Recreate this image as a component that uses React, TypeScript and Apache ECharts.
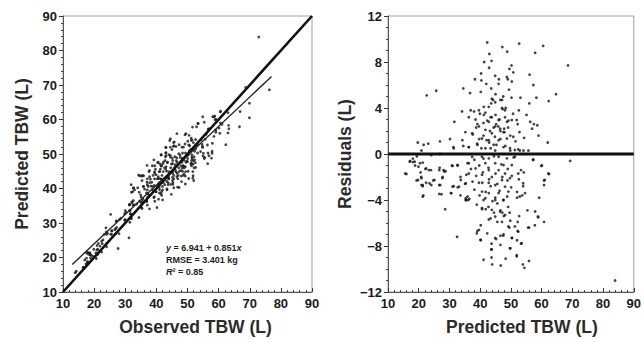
import React, { useEffect, useRef } from "react";
import * as echarts from "echarts";

// Residual plot readings: [predicted TBW (L), residual (L)]
const residualPoints: number[][] = [
  [42.3,9.7],[47.2,9.3],[52.7,9.6],[60.5,9.4],[48.8,8.9],[43.0,8.7],[57.9,8.8],[41.3,8.0],[43.7,8.1],[68.6,7.7],[50.2,7.7],[42.9,7.5],[49.5,7.4],[50.8,7.1],[40.3,7.0],[56.1,6.9],[44.9,6.8],[48.7,6.7],[38.3,6.5],[46.1,6.5],[40.4,6.4],[50.3,6.3],[49.0,6.5],[57.3,6.0],[46.0,6.1],[42.0,6.1],[43.6,5.7],[34.5,5.7],[49.4,5.6],[25.7,5.5],[22.6,5.1],[40.2,5.4],[36.7,5.3],[64.7,5.2],[45.0,5.2],[47.5,5.0],[50.2,4.9],[53.1,4.9],[58.3,4.9],[44.2,4.7],[46.6,4.7],[62.3,4.6],[43.6,4.4],[56.0,4.4],[41.2,4.1],[38.0,3.7],[41.7,3.6],[47.3,3.9],[48.3,4.0],[52.6,3.8],[34.1,3.7],[39.9,3.5],[45.0,3.4],[50.7,3.5],[55.1,3.4],[36.3,3.2],[43.4,3.2],[46.3,3.0],[42.3,2.9],[49.2,2.9],[58.6,2.5],[57.5,2.6],[56.3,2.8],[39.1,2.6],[41.1,2.7],[45.2,2.6],[45.9,2.4],[44.4,2.3],[47.8,2.2],[49.1,2.3],[52.2,2.6],[38.7,2.3],[43.2,2.0],[46.6,2.0],[47.9,1.9],[52.8,1.9],[35.2,1.9],[56.9,2.2],[59.0,1.6],[31.6,2.8],[37.6,1.7],[41.1,1.6],[44.8,1.5],[49.8,1.6],[54.3,1.4],[39.7,1.3],[42.1,1.2],[46.6,1.3],[30.2,1.3],[26.9,1.1],[42.9,1.0],[51.5,1.1],[62.0,1.0],[19.7,1.0],[23.1,0.9],[21.6,0.8],[39.1,0.8],[45.3,0.8],[48.2,0.7],[34.5,0.7],[31.3,0.6],[36.3,0.6],[40.4,0.5],[43.4,0.5],[31.4,0.5],[49.8,0.3],[52.4,0.4],[54.1,0.3],[55.7,0.3],[20.9,0.3],
  [19.4,-0.2],[26.9,0.0],[24.1,-0.1],[57.3,-0.5],[69.3,-0.6],[17.2,-0.6],[18.1,-0.7],[20.4,-0.8],[18.1,-0.4],[38.1,-0.5],[41.1,-0.4],[44.5,-0.2],[50.9,-0.3],[35.9,-0.8],[39.7,-1.0],[46.9,-0.9],[30.8,-1.0],[32.7,-1.0],[60.1,-1.0],[19.9,-1.1],[18.8,-1.0],[26.8,-1.2],[22.2,-1.3],[23.3,-1.4],[37.0,-1.3],[42.7,-1.2],[49.0,-1.3],[53.3,-1.4],[28.1,-1.4],[28.7,-1.5],[15.6,-1.7],[20.6,-1.6],[40.9,-1.6],[45.0,-1.7],[62.2,-1.7],[35.5,-1.8],[38.7,-1.9],[47.2,-2.0],[50.3,-1.9],[54.2,-1.6],[20.9,-2.1],[27.7,-2.1],[33.6,-2.0],[42.9,-2.2],[48.9,-2.3],[52.6,-2.2],[19.3,-2.3],[60.8,-2.3],[24.7,-2.3],[22.4,-2.5],[37.5,-2.4],[40.7,-2.5],[45.6,-2.6],[20.9,-2.7],[24.1,-2.7],[27.0,-2.7],[31.4,-2.8],[32.7,-2.9],[35.1,-2.6],[43.4,-2.8],[50.1,-2.9],[54.0,-2.8],[60.8,-2.7],[21.3,-2.8],[38.1,-3.1],[41.8,-3.3],[46.3,-3.2],[52.0,-3.3],[30.6,-3.4],[27.4,-3.5],[21.5,-3.6],[33.6,-3.6],[39.8,-3.6],[44.9,-3.8],[48.8,-3.7],[53.7,-3.6],[35.9,-3.7],[35.4,-4.0],[36.5,-3.9],[41.1,-4.0],[44.0,-4.1],[47.5,-4.0],[52.0,-3.8],[59.2,-3.8],[38.9,-4.4],[42.7,-4.6],[45.6,-4.3],[49.1,-4.6],[40.6,-4.8],[41.8,-4.8],[46.6,-4.9],[28.6,-4.8],[44.5,-5.1],[47.2,-5.1],[49.6,-5.1],[55.4,-4.9],[57.9,-5.0],[43.4,-5.6],[47.7,-5.4],[52.7,-5.4],[58.9,-5.5],[60.8,-5.9],[45.6,-5.9],[49.8,-5.8],[55.6,-6.4],[49.5,-6.4],[51.3,-6.3],[57.8,-6.2],[40.2,-6.2],[39.1,-6.7],[38.9,-6.9],[42.3,-6.9],[52.2,-6.7],[46.6,-7.1],[47.5,-7.1],[40.2,-7.5],[50.4,-7.3],[32.5,-7.2],[45.2,-7.4],[52.0,-7.5],[43.7,-7.8],[53.3,-7.8],[46.6,-7.9],[49.8,-8.2],[43.6,-8.3],[51.9,-8.8],[41.1,-9.2],[43.7,-9.0],[48.3,-9.1],[55.9,-9.3],[43.9,-9.6],[46.7,-9.7],[53.9,-9.6],[54.4,-9.9],[83.9,-11.0],
  [42.8,4.1],[44.9,4.5],[47.1,4.0],[48.1,3.2],[41.2,3.4],[38.5,3.0],[42.8,2.8],[44.9,2.4],[46.5,2.2],[47.6,1.9],[43.8,1.8],[41.7,2.1],[39.6,2.4],[37.4,1.8],[40.6,1.35],[42.8,1.2],[46.0,1.2],[48.7,1.35],[50.8,1.5],[39.0,0.9],[44.4,0.8],[47.6,0.6],[41.7,0.5],[49.7,0.5],[51.3,0.35],[52.9,0.3],[44.9,0.3],[36.3,0.6],[34.2,1.2],[48.7,2.8],[50.3,2.95],[43.8,3.2],[46.0,2.95],[36.9,3.8],[39.6,3.8],[47.1,4.7],[43.8,4.8],[48.1,3.8],[51.9,2.95],
  [37.4,-0.24],[40.6,-0.24],[42.8,-0.38],[46.0,-0.24],[48.7,-0.38],[51.3,-0.24],[36.3,-0.8],[41.7,-0.8],[44.9,-0.8],[47.6,-0.96],[50.3,-0.96],[38.5,-1.25],[42.8,-1.4],[46.0,-1.4],[48.1,-1.7],[36.3,-1.7],[40.6,-1.8],[43.8,-2.0],[47.1,-2.26],[49.7,-2.1],[52.4,-1.7],[39.6,-2.5],[42.8,-2.5],[44.9,-2.7],[48.1,-2.84],[40.6,-3.27],[42.8,-3.4],[46.0,-3.4],[49.2,-3.27],[41.7,-3.85],[44.9,-4.0],[47.6,-4.0],[35.3,-4.0],[40.6,-4.7],[43.8,-4.86],[46.5,-5.0],[48.1,-5.3],[44.9,-5.44],[42.8,-5.7],[47.1,-5.9],[49.2,-6.3],[39.6,-6.6],[52.4,-6.75],[44.9,-7.3],[47.6,-7.0],[50.3,-7.3],[40.1,-7.45],[43.8,-8.3],[51.9,-8.9],[49.7,-8.2],
  [17.1,-0.67],[18.7,-0.67],[21.3,-0.75],[16.0,-1.74],[22.4,-1.25],[24.0,-1.4],[26.7,-1.4],[28.3,-1.5],[27.8,-2.0],[20.8,-2.0],[19.8,-2.26],[25.1,-2.26],[21.3,-2.7],[23.5,-2.55],[26.7,-2.7],[31.0,-2.84],[33.1,-2.84],[35.3,-2.55],[30.5,-3.4],[21.3,-3.7],[26.7,-3.47],[31.0,-1.04],[32.6,-0.96],[33.7,-2.26],[35.3,-3.85],[36.1,-4.0],
  [57.2,-0.5],[59.9,-1.04],[62.4,-1.74],[61.0,-2.26],[54.6,-3.4],[54.0,-2.55],[52.9,-3.7],[52.2,-5.9],[53.5,-7.75],[58.8,-5.44],[55.9,-6.4],
];

// Observed TBW = predicted + residual
const predictedObserved: number[][] = residualPoints.map(([p, r]) => [+(p + r).toFixed(2), p]);

const identityLine: number[][] = [[10, 10], [90, 90]];
const regIntercept = 6.941;
const regSlope = 0.851;
const regRange: number[] = [13, 77];
const regLine: number[][] = regRange.map((x) => [x, regIntercept + regSlope * x]);
const zeroLine: number[][] = [[10, 0], [90, 0]];

const xTicks = { min: 10, max: 90, interval: 10 };
const leftY = { min: 10, max: 90, interval: 10 };
const rightY = { min: -12, max: 12, interval: 4 };

const FONT = "'Liberation Sans', Arial, sans-serif";
const labelStyle = { color: "#1a1a1a", fontWeight: "bold" as const, fontSize: 13, fontFamily: FONT };
const nameStyle = { color: "#2b2b2b", fontWeight: "bold" as const, fontSize: 17.5, fontFamily: FONT };

function xAxis(gridIndex: number, name: string, shift: number) {
  return {
    type: "value", gridIndex, name, nameLocation: "middle", nameGap: 26,
    nameTextStyle: { ...nameStyle, padding: [0, 0, 0, shift] },
    ...xTicks,
    axisLine: { show: true, onZero: false, lineStyle: { color: "#555", width: 1 } },
    axisTick: { show: true, inside: true, length: 4, lineStyle: { color: "#333" } },
    minorTick: { show: true, splitNumber: 5, length: 2, lineStyle: { color: "#444" } },
    splitLine: { show: false },
    axisLabel: { ...labelStyle, margin: 5 },
  };
}

function yAxis(gridIndex: number, name: string, range: any, minorSplit: number, gap: number) {
  return {
    type: "value", gridIndex, name, nameLocation: "middle", nameGap: gap, nameTextStyle: nameStyle,
    ...range,
    axisLine: { show: true, onZero: false, lineStyle: { color: "#555", width: 1 } },
    axisTick: { show: true, inside: false, length: 4, lineStyle: { color: "#333" } },
    minorTick: { show: true, splitNumber: minorSplit, length: 2, lineStyle: { color: "#444" } },
    splitLine: { show: false },
    axisLabel: { ...labelStyle, margin: 6, formatter: (v: number) => String(v).replace("-", "\u2212") },
  };
}

export default function App() {
  const ref = useRef<HTMLDivElement>(null);
  useEffect(() => {
    if (!ref.current) return;
    const chart = echarts.init(ref.current, undefined, { renderer: "svg" });
    const dot = { symbol: "circle", symbolSize: 2.8, itemStyle: { color: "#151515" } };
    const rich = { i: { fontStyle: "italic", fontWeight: "bold", fontSize: 9, fontFamily: FONT, fill: "#222" } };
    chart.setOption({
      animation: false,
      backgroundColor: "#fff",
      grid: [
        { left: 63, top: 16, width: 249, height: 276, show: true, borderColor: "#a0a0a0", borderWidth: 1 },
        { left: 388, top: 16, width: 249, height: 276, show: true, borderColor: "#a0a0a0", borderWidth: 1 },
      ],
      xAxis: [xAxis(0, "Observed TBW (L)", 16), xAxis(1, "Predicted TBW (L)", 22)],
      yAxis: [
        yAxis(0, "Predicted TBW (L)", leftY, 5, 32),
        yAxis(1, "Residuals (L)", rightY, 4, 34),
      ],
      series: [
        { type: "scatter", xAxisIndex: 0, yAxisIndex: 0, data: predictedObserved, ...dot, silent: true },
        { type: "line", xAxisIndex: 0, yAxisIndex: 0, data: regLine, symbol: "none", lineStyle: { color: "#222", width: 1.4 }, silent: true },
        { type: "line", xAxisIndex: 0, yAxisIndex: 0, data: identityLine, symbol: "none", lineStyle: { color: "#111", width: 2.6 }, silent: true },
        { type: "scatter", xAxisIndex: 1, yAxisIndex: 1, data: residualPoints, ...dot, silent: true },
        { type: "line", xAxisIndex: 1, yAxisIndex: 1, data: zeroLine, symbol: "none", lineStyle: { color: "#111", width: 3 }, silent: true },
      ],
      graphic: [
        {
          type: "group", left: 166, top: 243,
          children: [
            { type: "text", x: 0, y: 0, style: { text: "{i|y} = 6.941 + 0.851{i|x}", rich, font: `bold 9px ${FONT}`, fill: "#222" } },
            { type: "text", x: 0, y: 12, style: { text: "RMSE = 3.401 kg", font: `bold 9px ${FONT}`, fill: "#222" } },
            { type: "text", x: 0, y: 24, style: { text: "{i|R}\u00b2 = 0.85", rich, font: `bold 9px ${FONT}`, fill: "#222" } },
          ],
        },
      ],
    });
    return () => chart.dispose();
  }, []);
  return <div ref={ref} style={{ position: "fixed", left: 0, top: 0, width: 644, height: 343, background: "#fff" }} />;
}
